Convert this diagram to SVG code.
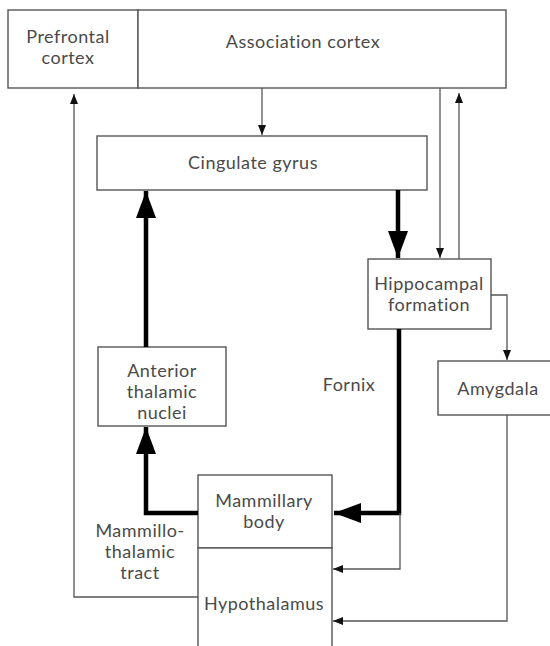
<svg xmlns="http://www.w3.org/2000/svg" width="550" height="646" viewBox="0 0 550 646">
  <style>
    .box { fill: #fff; stroke: #555; stroke-width: 1.4; }
    .lbl { font-family: Lato, "Open Sans", sans-serif; font-size: 18px; letter-spacing: 0.5px; fill: #4a4a4a; text-anchor: middle; }
    .thin { fill: none; stroke: #555; stroke-width: 1.3; }
    .thick { fill: none; stroke: #000; stroke-width: 4.5; }
  </style>
  <defs>
    <marker id="ah" markerUnits="userSpaceOnUse" viewBox="0 0 10 8" refX="10" refY="4" markerWidth="10" markerHeight="8" orient="auto">
      <path d="M0,0 L10,4 L0,8 Z" fill="#111"/>
    </marker>
    <marker id="ahBig" markerUnits="userSpaceOnUse" viewBox="0 0 27 20" refX="27" refY="10" markerWidth="27" markerHeight="20" orient="auto">
      <path d="M0,0 L27,10 L0,20 Z" fill="#000"/>
    </marker>
  </defs>

  <!-- nodes -->
  <g id="prefrontal-cortex">
    <rect class="box" x="8" y="10" width="130" height="78"/>
    <text class="lbl" x="68" y="43">Prefrontal</text>
    <text class="lbl" x="68" y="64">cortex</text>
  </g>
  <g id="association-cortex">
    <rect class="box" x="138" y="10" width="368" height="78"/>
    <text class="lbl" x="303" y="48">Association cortex</text>
  </g>
  <g id="cingulate-gyrus">
    <rect class="box" x="97" y="136" width="330" height="54"/>
    <text class="lbl" x="253" y="169">Cingulate gyrus</text>
  </g>
  <g id="hippocampal-formation">
    <rect class="box" x="368" y="259" width="123" height="70"/>
    <text class="lbl" x="429" y="290">Hippocampal</text>
    <text class="lbl" x="429" y="311">formation</text>
  </g>
  <g id="amygdala">
    <rect class="box" x="438" y="361" width="120" height="54"/>
    <text class="lbl" x="498" y="395">Amygdala</text>
  </g>
  <g id="anterior-thalamic-nuclei">
    <rect class="box" x="98" y="347" width="128" height="79"/>
    <text class="lbl" x="162" y="377">Anterior</text>
    <text class="lbl" x="162" y="398">thalamic</text>
    <text class="lbl" x="162" y="419">nuclei</text>
  </g>
  <g id="mammillary-body">
    <rect class="box" x="198" y="475" width="134" height="73"/>
    <text class="lbl" x="264" y="507">Mammillary</text>
    <text class="lbl" x="264" y="528">body</text>
  </g>
  <g id="hypothalamus">
    <rect class="box" x="198" y="548" width="134" height="104"/>
    <text class="lbl" x="264" y="610">Hypothalamus</text>
  </g>

  <!-- connectors -->
  <g id="connectors">
    <line class="thin" x1="262" y1="88" x2="262" y2="135" marker-end="url(#ah)"/>
    <line class="thin" x1="440" y1="88" x2="440" y2="258" marker-end="url(#ah)"/>
    <line class="thin" x1="459" y1="259" x2="459" y2="93" marker-end="url(#ah)"/>
    <line class="thick" x1="398" y1="190" x2="398" y2="258" marker-end="url(#ahBig)"/>
    <polyline class="thin" points="491,295 507,295 507,360" marker-end="url(#ah)"/>
    <polyline class="thin" points="507,415 507,621 333,621" marker-end="url(#ah)"/>
    <polyline class="thick" points="399,329 399,513 334,513" marker-end="url(#ahBig)"/>
    <polyline class="thin" points="400,513 400,569 333,569" marker-end="url(#ah)"/>
    <line class="thick" x1="146" y1="347" x2="146" y2="191" marker-end="url(#ahBig)"/>
    <polyline class="thick" points="198,513 146,513 146,427" marker-end="url(#ahBig)"/>
    <polyline class="thin" points="198,597 74,597 74,94" marker-end="url(#ah)"/>
    <text class="lbl" x="349" y="391">Fornix</text>
    <text class="lbl" x="140" y="537">Mammillo-</text>
    <text class="lbl" x="140" y="558">thalamic</text>
    <text class="lbl" x="140" y="579">tract</text>
  </g>
</svg>
